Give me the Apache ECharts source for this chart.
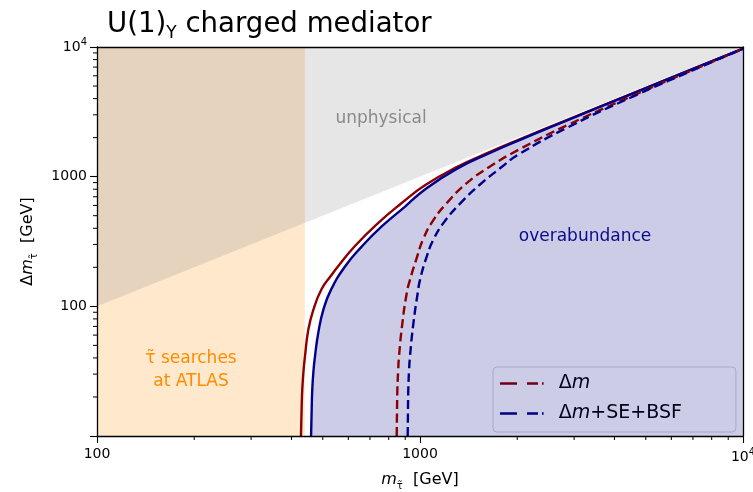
<!DOCTYPE html>
<html>
<head>
<meta charset="utf-8">
<script src="https://cdn.jsdelivr.net/npm/echarts@6/dist/echarts.min.js"></script>
<style>
  html, body { margin: 0; padding: 0; background: #fff; }
  #chart { width: 753px; height: 492px; }
</style>
</head>
<body>
<div id="chart"></div>
<script>
// Axis ranges (GeV)
const xRange = [100, 10000];
const yRange = [10, 10000];

// Minor tick positions on the log axes
const xMinorTicks = [200, 300, 400, 500, 600, 700, 800, 900, 2000, 3000, 4000, 5000, 6000, 7000, 8000, 9000];
const yMinorTicks = [20, 30, 40, 50, 60, 70, 80, 90, 200, 300, 400, 500, 600, 700, 800, 900, 2000, 3000, 4000, 5000, 6000, 7000, 8000, 9000];

// ATLAS stau exclusion: m below this value
const atlasLimit = 440;
const atlasBand = [[xRange[0], yRange[1]], [atlasLimit, yRange[1]]];

// Kinematic boundary Δm = m
const unphysicalEdge = [[100, 100], [10000, 10000]];

// Relic-abundance contours [m, Δm]
const dmSolid = [[428, 10], [430, 16], [432, 22.8], [436, 32], [440.5, 41.1], [451, 66], [467.5, 94], [496, 136], [530, 172], [558, 204], [629, 292], [743, 440], [878, 626], [1036, 858], [1299, 1185], [1647, 1552], [2016, 1921], [2868, 2753], [4651, 4491], [7541, 7311], [10000, 9700]];
const dmSeBsfSolid = [[460, 10], [462, 16], [464, 23], [468, 32], [473, 41], [484, 62], [502, 94], [530, 134], [586, 203], [660, 289], [761, 413], [899, 588], [1036, 797], [1299, 1149], [1647, 1522], [2016, 1896], [2868, 2733], [4651, 4476], [7541, 7301], [10000, 9700]];
const dmDashed = [[847, 10], [849, 16], [851, 22.8], [856, 32], [861, 41.1], [882, 74.3], [910, 126.6], [931, 160], [977, 236], [1024, 332], [1100, 462], [1210, 625], [1395, 891], [1647, 1197], [2016, 1609], [2868, 2506], [4651, 4306], [7500, 7160], [10000, 9680]];
const dmSeBsfDashed = [[916, 10], [918, 16], [920, 23], [925, 32], [931, 41], [954, 74], [984, 127], [1000, 160], [1049, 242], [1100, 326], [1181, 438], [1330, 620], [1534, 870], [1769, 1160], [2016, 1480], [2868, 2400], [4651, 4240], [7500, 7130], [10000, 9680]];

const RED = '#8b0000';
const BLUE = '#00008b';
const TEXT_FONT = 'DejaVu Sans';

// Dashed legend key: long dash, short dash, dot
const DASH_KEY = 'path://M0,0H17V2.4H0Z M27,0H38V2.4H27Z M42,0H43.6V2.4H42Z';

const chart = echarts.init(document.getElementById('chart'), null, { renderer: 'canvas' });

function tickLabel(v) {
  if (v === 10000) return '10{sup|4}';
  if (v === 10) return '';
  return String(v);
}

const tickText = {
  fontFamily: TEXT_FONT, fontSize: 14, color: '#000',
  rich: { sup: { fontFamily: TEXT_FONT, fontSize: 10, verticalAlign: 'top', lineHeight: 20, color: '#000' } }
};

function minorTicks(values, onX) {
  return {
    type: 'custom',
    silent: true,
    clip: false,
    z: 20,
    data: values.map(v => onX ? [v, yRange[0]] : [xRange[0], v]),
    renderItem(params, api) {
      const p = api.coord([api.value(0), api.value(1)]);
      const shape = onX
        ? { x1: p[0], y1: p[1], x2: p[0], y2: p[1] + 4 }
        : { x1: p[0], y1: p[1], x2: p[0] - 4, y2: p[1] };
      return { type: 'line', shape, style: { stroke: '#000', lineWidth: 1 } };
    }
  };
}

function regionFill(name, data, origin, color) {
  return {
    name, type: 'line', data, silent: true, z: 1,
    showSymbol: false, symbol: 'none',
    lineStyle: { width: 0, opacity: 0 },
    areaStyle: { origin, color, opacity: 1 }
  };
}

function contour(name, data, color, dashed, area) {
  const s = {
    name, type: 'line', data, z: 5,
    symbol: 'none', showSymbol: false, smooth: 0.5,
    lineStyle: { color, width: 2.4, type: dashed ? [9, 4.5] : 'solid', cap: 'butt' },
    itemStyle: { color }
  };
  if (area) s.areaStyle = { origin: 'start', color: area, opacity: 1 };
  return s;
}

const subRich = {
  m: { fontFamily: TEXT_FONT, fontSize: 16, fontStyle: 'italic', color: '#000', lineHeight: 22 },
  s: { fontFamily: TEXT_FONT, fontSize: 10, color: '#000', verticalAlign: 'bottom', lineHeight: 12 },
  t: { fontFamily: TEXT_FONT, fontSize: 16, color: '#000', lineHeight: 22 }
};

const option = {
  animation: false,
  backgroundColor: '#fff',
  title: {
    text: 'U(1){sub|Y} charged mediator',
    left: 102, top: 3,
    textStyle: {
      fontFamily: TEXT_FONT, fontSize: 27.6, fontWeight: 'normal', color: '#000', lineHeight: 34,
      rich: { sub: { fontFamily: TEXT_FONT, fontSize: 17, verticalAlign: 'bottom', lineHeight: 22, color: '#000' } }
    }
  },
  grid: { left: 97, right: 10, top: 47, bottom: 56, containLabel: false, outerBoundsMode: 'none' },
  xAxis: [{
    type: 'log', logBase: 10, min: xRange[0], max: xRange[1], z: 20,
    name: '{m|m}{s|τ̃}{t|  [GeV]}', nameLocation: 'middle', nameGap: 33,
    nameTextStyle: { rich: subRich },
    axisLine: { show: true, lineStyle: { color: '#000', width: 1.3 } },
    axisTick: { show: true, inside: false, length: 7, lineStyle: { color: '#000', width: 1.1 } },
    axisLabel: { formatter: tickLabel, margin: 11, ...tickText },
    splitLine: { show: false }, minorTick: { show: false }
  }, {
    type: 'log', logBase: 10, min: xRange[0], max: xRange[1], position: 'top', z: 20,
    axisLine: { show: true, lineStyle: { color: '#000', width: 1.3 } },
    axisTick: { show: false }, axisLabel: { show: false }, splitLine: { show: false }
  }],
  yAxis: [{
    type: 'log', logBase: 10, min: yRange[0], max: yRange[1], z: 20,
    name: '{t|Δ}{m|m}{s|τ̃}{t|  [GeV]}', nameLocation: 'middle', nameGap: 58, nameRotate: 90,
    nameTextStyle: { rich: subRich },
    axisLine: { show: true, lineStyle: { color: '#000', width: 1.3 } },
    axisTick: { show: true, inside: false, length: 7, lineStyle: { color: '#000', width: 1.1 } },
    axisLabel: { formatter: tickLabel, margin: 10, ...tickText },
    splitLine: { show: false }, minorTick: { show: false }
  }, {
    type: 'log', logBase: 10, min: yRange[0], max: yRange[1], position: 'right', z: 20,
    axisLine: { show: true, lineStyle: { color: '#000', width: 1.3 } },
    axisTick: { show: false }, axisLabel: { show: false }, splitLine: { show: false }
  }],
  legend: {
    data: [{ name: 'Δm', icon: DASH_KEY }, { name: 'Δm+SE+BSF', icon: DASH_KEY }],
    orient: 'vertical', left: 493, top: 367,
    itemWidth: 44, itemHeight: 2.4, itemGap: 9,
    padding: [6, 54, 8, 7],
    backgroundColor: 'rgba(255,255,255,0.82)',
    borderColor: '#d4d4d4', borderWidth: 1, borderRadius: 4,
    formatter: name => name === 'Δm' ? 'Δ{i|m}' : 'Δ{i|m}+SE+BSF',
    textStyle: {
      fontFamily: TEXT_FONT, fontSize: 19, color: '#000', padding: [0, 0, 0, 10], lineHeight: 21,
      rich: { i: { fontFamily: TEXT_FONT, fontSize: 19, fontStyle: 'italic', color: '#000', lineHeight: 21 } }
    }
  },
  graphic: [
    { type: 'text', x: 381, y: 119, style: { text: 'unphysical', font: '17px "DejaVu Sans"', fill: '#8a8a8a', align: 'center', verticalAlign: 'middle' }, z: 30 },
    { type: 'text', x: 585, y: 237, style: { text: 'overabundance', font: '17px "DejaVu Sans"', fill: '#0a0a8c', align: 'center', verticalAlign: 'middle' }, z: 30 },
    { type: 'text', x: 191, y: 370, style: { text: 'τ̃ searches\nat ATLAS', font: '17px "DejaVu Sans"', fill: '#ff8c00', align: 'center', verticalAlign: 'middle', lineHeight: 23 }, z: 30 }
  ],
  series: [
    regionFill('ATLAS', atlasBand, 'start', 'rgba(255,140,0,0.2)'),
    regionFill('unphysical', unphysicalEdge, 'end', 'rgba(128,128,128,0.2)'),
    contour('Δm (Ωh² line)', dmSolid, RED, false, null),
    contour('Δm+SE+BSF (Ωh² line)', dmSeBsfSolid, BLUE, false, 'rgba(0,0,128,0.2)'),
    contour('Δm', dmDashed, RED, true, null),
    contour('Δm+SE+BSF', dmSeBsfDashed, BLUE, true, null),
    minorTicks(xMinorTicks, true),
    minorTicks(yMinorTicks, false)
  ]
};

chart.setOption(option);
</script>
</body>
</html>
